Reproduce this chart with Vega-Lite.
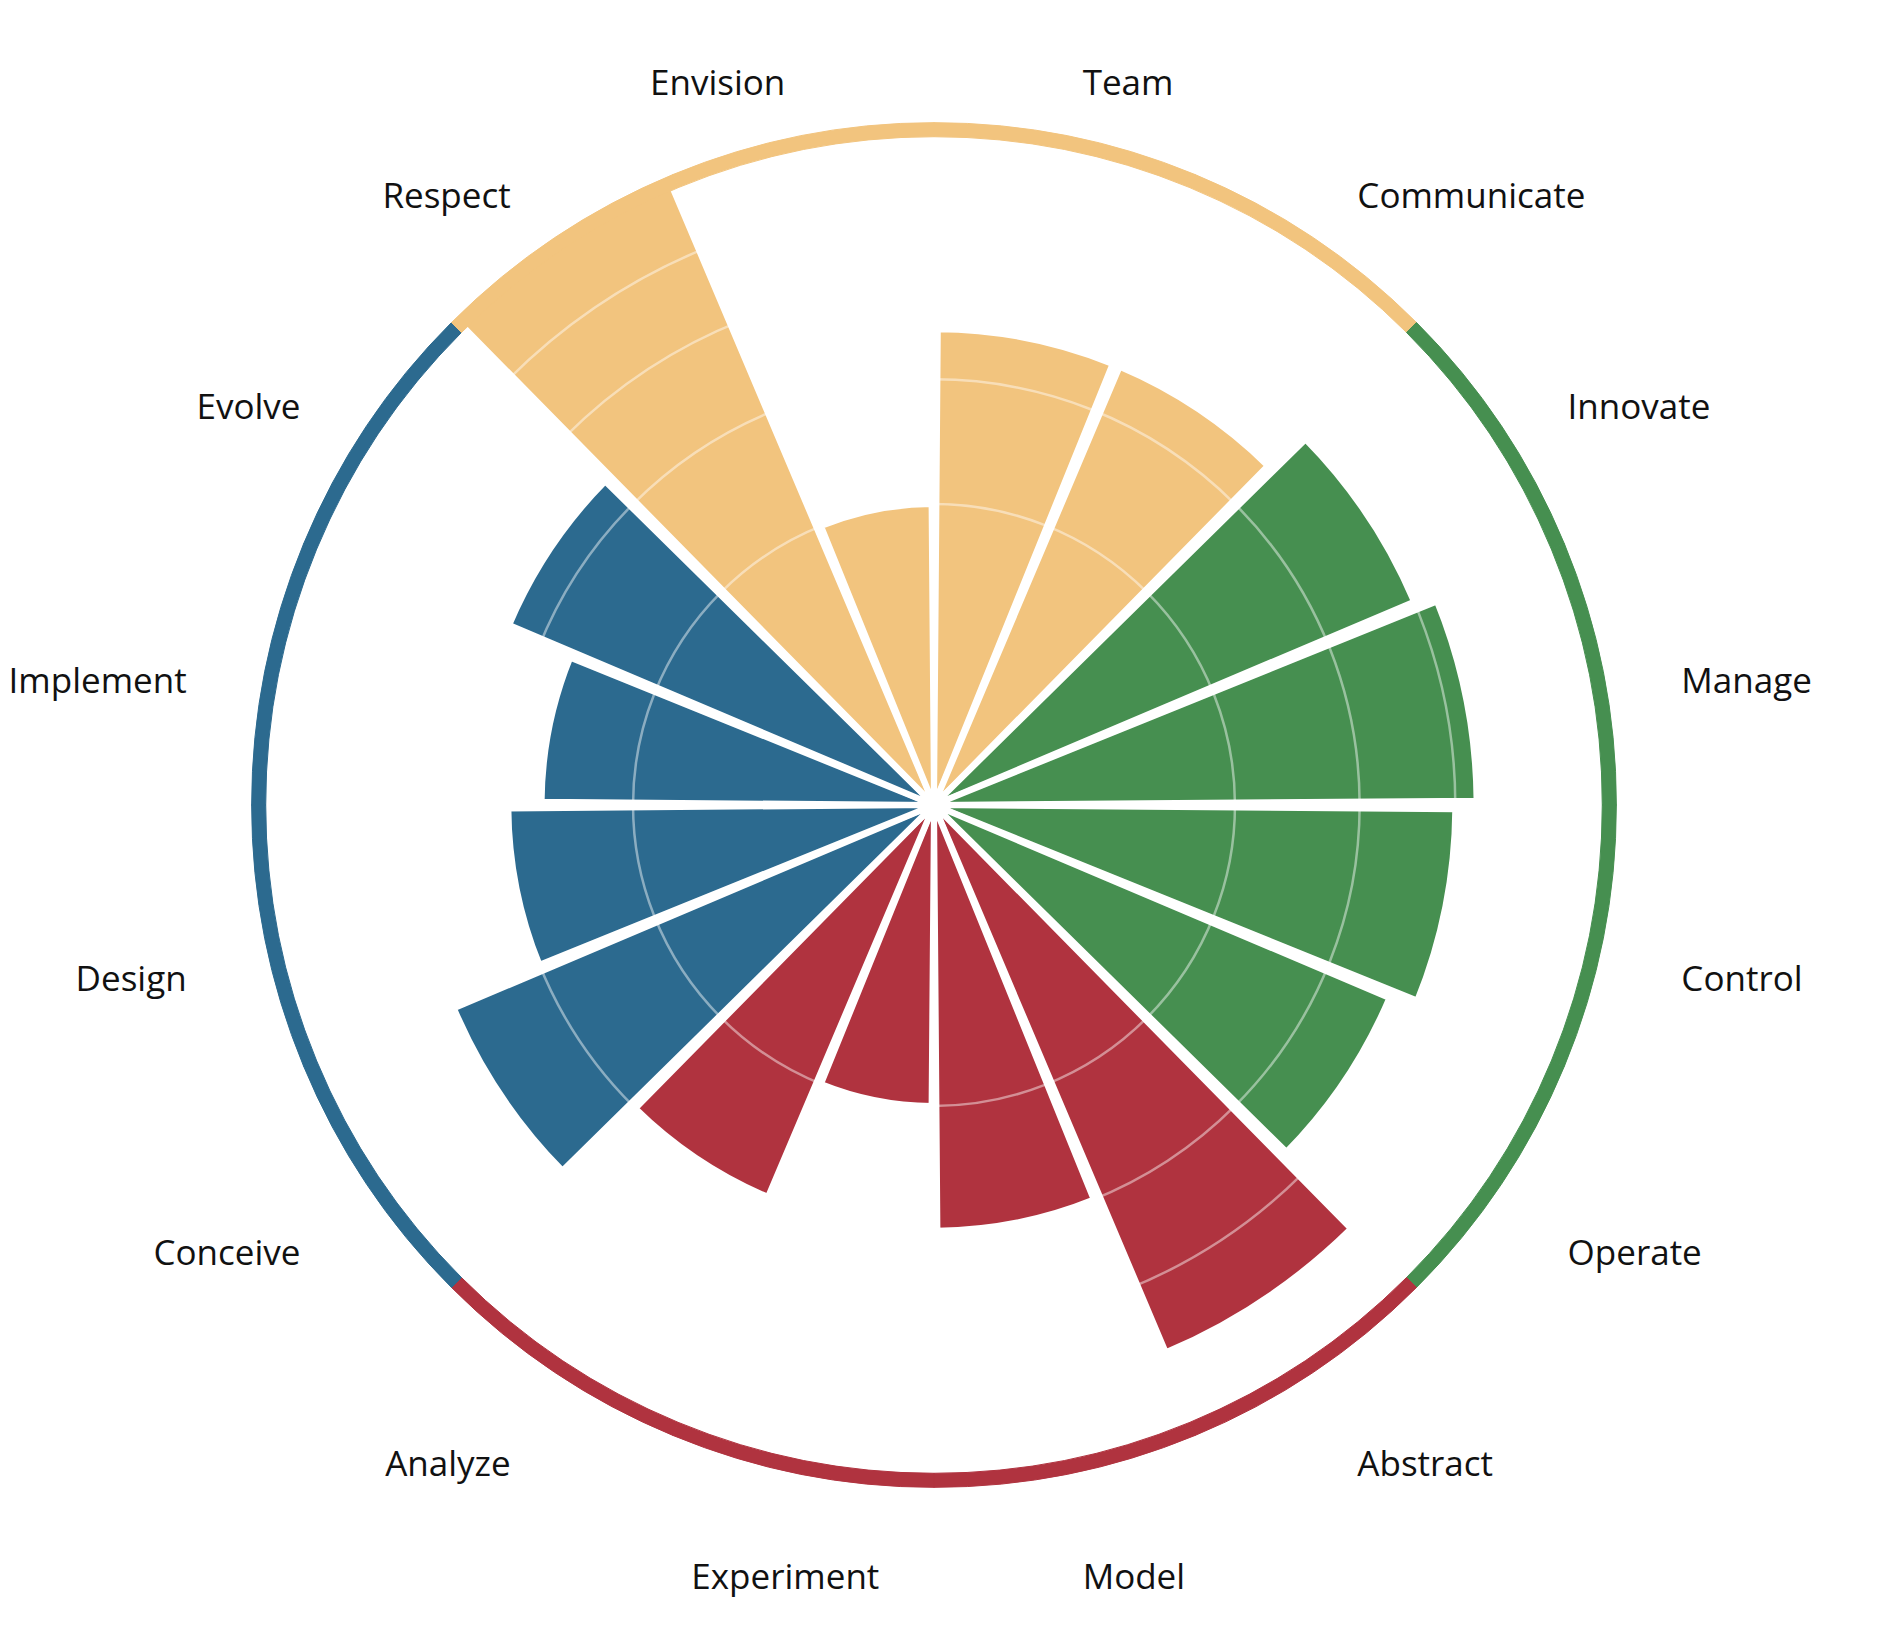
{
  "$schema": "https://vega.github.io/schema/vega-lite/v6.json",
  "width": 1868,
  "height": 1610,
  "autosize": {"type": "none"},
  "padding": 0,
  "background": "white",
  "config": {"view": {"stroke": null}},
  "data": {"values": [
    {"i": 0, "name": "Team", "group": "Orange", "value": 2.5},
    {"i": 1, "name": "Communicate", "group": "Orange", "value": 2.5},
    {"i": 2, "name": "Innovate", "group": "Green", "value": 3},
    {"i": 3, "name": "Manage", "group": "Green", "value": 3.25},
    {"i": 4, "name": "Control", "group": "Green", "value": 3},
    {"i": 5, "name": "Operate", "group": "Green", "value": 2.7},
    {"i": 6, "name": "Abstract", "group": "Red", "value": 3.9},
    {"i": 7, "name": "Model", "group": "Red", "value": 2},
    {"i": 8, "name": "Experiment", "group": "Red", "value": 1},
    {"i": 9, "name": "Analyze", "group": "Red", "value": 2},
    {"i": 10, "name": "Conceive", "group": "Blue", "value": 3},
    {"i": 11, "name": "Design", "group": "Blue", "value": 2},
    {"i": 12, "name": "Implement", "group": "Blue", "value": 1.7},
    {"i": 13, "name": "Evolve", "group": "Blue", "value": 2.35},
    {"i": 14, "name": "Respect", "group": "Orange", "value": 5},
    {"i": 15, "name": "Envision", "group": "Orange", "value": 1}
  ]},
  "layer": [
    {
      "mark": {"type": "arc", "stroke": "white", "strokeWidth": 6, "padAngle": 0.016},
      "encoding": {
        "theta": {"field": "name", "type": "nominal", "scale": {"domain": ["Team", "Communicate", "Innovate", "Manage", "Control", "Operate", "Abstract", "Model", "Experiment", "Analyze", "Conceive", "Design", "Implement", "Evolve", "Respect", "Envision"], "paddingInner": 0, "paddingOuter": 0}},
        "radius": {"field": "value", "type": "quantitative", "stack": false, "scale": {"type": "sqrt", "domain": [0, 5], "range": [0, 673]}},
        "color": {"field": "group", "type": "nominal", "scale": {"domain": ["Orange", "Green", "Red", "Blue"], "range": ["#F2C47E", "#468F50", "#B0333F", "#2C6A8F"]}, "legend": null}
      }
    },
    {
      "data": {"values": [{"v": 1}, {"v": 2}, {"v": 3}, {"v": 4}]},
      "mark": {"type": "arc", "filled": false, "stroke": "white", "strokeOpacity": 0.45, "strokeWidth": 2.5, "theta": 0, "theta2": 6.2832},
      "encoding": {
        "radius": {"field": "v", "type": "quantitative", "stack": false, "scale": {"type": "sqrt", "domain": [0, 5], "range": [0, 673]}}
      }
    },
    {
      "mark": {"type": "arc", "strokeWidth": 1},
      "encoding": {
        "theta": {"field": "name", "type": "nominal", "scale": {"domain": ["Team", "Communicate", "Innovate", "Manage", "Control", "Operate", "Abstract", "Model", "Experiment", "Analyze", "Conceive", "Design", "Implement", "Evolve", "Respect", "Envision"], "paddingInner": 0, "paddingOuter": 0}},
        "radius": {"datum": 4.93, "type": "quantitative", "scale": {"type": "sqrt", "domain": [0, 5], "range": [0, 673]}},
        "radius2": {"datum": 5.14},
        "color": {"field": "group", "type": "nominal", "scale": {"domain": ["Orange", "Green", "Red", "Blue"], "range": ["#F2C47E", "#468F50", "#B0333F", "#2C6A8F"]}, "legend": null},
        "stroke": {"field": "group", "type": "nominal", "scale": {"domain": ["Orange", "Green", "Red", "Blue"], "range": ["#F2C47E", "#468F50", "#B0333F", "#2C6A8F"]}, "legend": null}
      }
    },
    {
      "mark": {
        "type": "text",
        "font": "Open Sans",
        "fontSize": 35,
        "color": "#111111",
        "dy": 26,
        "align": {"expr": "datum.i == 8 ? 'center' : (datum.i < 8 ? 'left' : 'right')"},
        "baseline": "middle"
      },
      "encoding": {
        "theta": {"field": "name", "type": "nominal", "scale": {"domain": ["Team", "Communicate", "Innovate", "Manage", "Control", "Operate", "Abstract", "Model", "Experiment", "Analyze", "Conceive", "Design", "Implement", "Evolve", "Respect", "Envision"], "paddingInner": 0, "paddingOuter": 0}},
        "radius": {"datum": 6.41, "type": "quantitative", "scale": {"type": "sqrt", "domain": [0, 5], "range": [0, 673]}},
        "text": {"field": "name", "type": "nominal"}
      }
    }
  ]
}
